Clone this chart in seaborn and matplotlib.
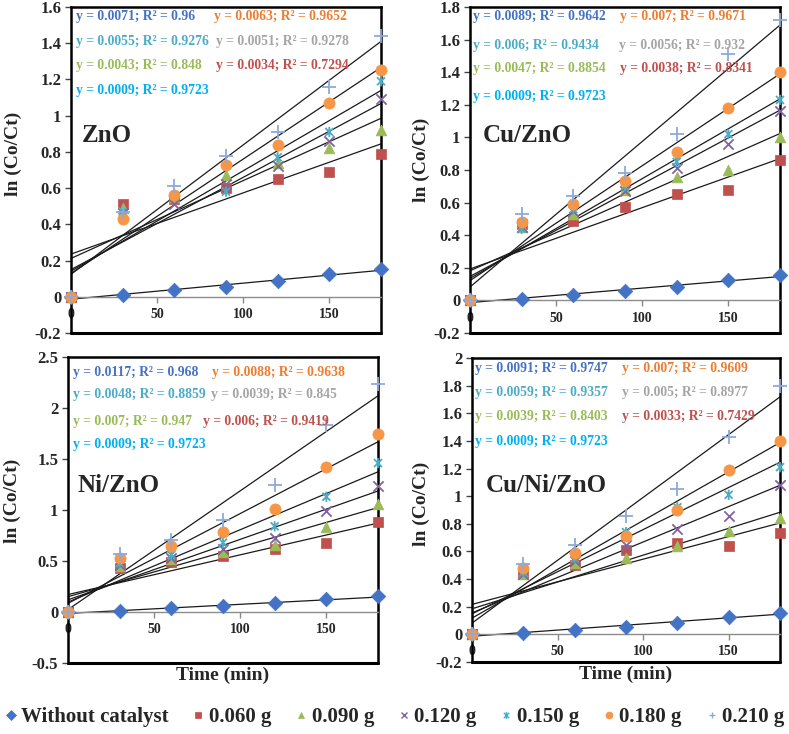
import numpy as np
import pandas as pd
import matplotlib
matplotlib.use('Agg')
import matplotlib.pyplot as plt
from matplotlib.path import Path
from matplotlib.lines import Line2D
import seaborn as sns

sns.set_style('white')
plt.rcParams['font.family'] = ['Liberation Serif', 'DejaVu Serif']
plt.rcParams['font.weight'] = 'bold'

time_min = [0, 30, 60, 90, 120, 150, 180]
no_catalyst = [0, 0.01, 0.035, 0.055, 0.085, 0.125, 0.155]

doses = ['0.060 g', '0.090 g', '0.120 g', '0.150 g', '0.180 g', '0.210 g']

# ln(Co/Ct) per dose, same order as doses
zno = [
    [0, 0.51, 0.54, 0.60, 0.65, 0.69, 0.79],
    [0, 0.49, 0.55, 0.67, 0.74, 0.82, 0.92],
    [0, 0.46, 0.51, 0.62, 0.72, 0.86, 1.09],
    [0, 0.47, 0.56, 0.58, 0.77, 0.91, 1.19],
    [0, 0.43, 0.56, 0.73, 0.84, 1.07, 1.25],
    [0, 0.47, 0.61, 0.78, 0.91, 1.16, 1.44],
]
cu_zno = [
    [0, 0.47, 0.49, 0.57, 0.65, 0.68, 0.86],
    [0, 0.45, 0.53, 0.68, 0.76, 0.80, 1.00],
    [0, 0.45, 0.55, 0.67, 0.81, 0.96, 1.16],
    [0, 0.44, 0.56, 0.70, 0.85, 1.02, 1.23],
    [0, 0.48, 0.59, 0.73, 0.91, 1.18, 1.40],
    [0, 0.53, 0.64, 0.78, 1.02, 1.51, 1.72],
]
ni_zno = [
    [0, 0.43, 0.49, 0.55, 0.62, 0.68, 0.88],
    [0, 0.45, 0.52, 0.59, 0.66, 0.83, 1.06],
    [0, 0.46, 0.53, 0.62, 0.73, 0.99, 1.24],
    [0, 0.48, 0.56, 0.68, 0.84, 1.13, 1.46],
    [0, 0.53, 0.65, 0.78, 1.01, 1.42, 1.75],
    [0, 0.57, 0.71, 0.90, 1.25, 1.83, 2.24],
]
cu_ni_zno = [
    [0, 0.44, 0.50, 0.61, 0.66, 0.64, 0.73],
    [0, 0.44, 0.52, 0.55, 0.64, 0.75, 0.84],
    [0, 0.44, 0.53, 0.65, 0.76, 0.86, 1.08],
    [0, 0.45, 0.55, 0.74, 0.92, 1.01, 1.21],
    [0, 0.48, 0.59, 0.71, 0.90, 1.19, 1.40],
    [0, 0.51, 0.65, 0.86, 1.05, 1.43, 1.80],
]

panel_names = ['ZnO', 'Cu/ZnO', 'Ni/ZnO', 'Cu/Ni/ZnO']

zno_eq = ['y = 0.0071; R² = 0.96', 'y = 0.0063; R² = 0.9652',
          'y = 0.0055; R² = 0.9276', 'y = 0.0051; R² = 0.9278',
          'y = 0.0043; R² = 0.848', 'y = 0.0034; R² = 0.7294',
          'y = 0.0009; R² = 0.9723']
cu_zno_eq = ['y = 0.0089; R² = 0.9642', 'y = 0.007; R² = 0.9671',
             'y = 0.006; R² = 0.9434', 'y = 0.0056; R² = 0.932',
             'y = 0.0047; R² = 0.8854', 'y = 0.0038; R² = 0.8341',
             'y = 0.0009; R² = 0.9723']
ni_zno_eq = ['y = 0.0117; R² = 0.968', 'y = 0.0088; R² = 0.9638',
             'y = 0.0048; R² = 0.8859', 'y = 0.0039; R² = 0.845',
             'y = 0.007; R² = 0.947', 'y = 0.006; R² = 0.9419',
             'y = 0.0009; R² = 0.9723']
cu_ni_zno_eq = ['y = 0.0091; R² = 0.9747', 'y = 0.007; R² = 0.9609',
                'y = 0.0059; R² = 0.9357', 'y = 0.005; R² = 0.8977',
                'y = 0.0039; R² = 0.8403', 'y = 0.0033; R² = 0.7429',
                'y = 0.0009; R² = 0.9723']
eq_colors = ['#4472C4', '#ED7D31', '#4BACC6', '#A5A5A5', '#9BBB59', '#C0504D', '#00B0F0']

# excel-like star: x with a vertical bar
STAR = Path([(-1, -1), (1, 1), (-1, 1), (1, -1), (0, -1.3), (0, 1.3)],
            [Path.MOVETO, Path.LINETO, Path.MOVETO, Path.LINETO, Path.MOVETO, Path.LINETO])

nc_style = ('D', '#4472C4', 55)
dose_styles = [('s', '#C0504D', 55), ('^', '#9BBB59', 60), ('x', '#8064A2', 55),
               (STAR, '#4BACC6', 55), ('o', '#F79646', 65), ('+', '#8EA9DB', 95)]

# box in pixels, y label x/y, name x/y, equation rows, equation x per text
panels = [
    (zno, zno_eq, (-0.2, 1.6), 0.2, [71, 7, 381, 333], -0.158, 0.55, 0.035, 0.607,
     [0.97, 0.895, 0.82, 0.745], [0.016, 0.46, 0.016, 0.468, 0.016, 0.468, 0.016]),
    (cu_zno, cu_zno_eq, (-0.2, 1.8), 0.2, [470, 7, 780, 333], -0.129, 0.53, 0.04, 0.607,
     [0.97, 0.883, 0.81, 0.724], [0.01, 0.484, 0.01, 0.48, 0.01, 0.484, 0.01]),
    (ni_zno, ni_zno_eq, (-0.5, 2.5), 0.5, [68, 357, 378, 663], -0.152, 0.53, 0.03, 0.58,
     [0.95, 0.876, 0.79, 0.713], [0.016, 0.464, 0.016, 0.461, 0.016, 0.435, 0.016]),
    (cu_ni_zno, cu_ni_zno_eq, (-0.2, 2.0), 0.2, [472, 358, 780, 662], -0.136, 0.52, 0.045, 0.58,
     [0.964, 0.885, 0.806, 0.724], [0.01, 0.487, 0.01, 0.487, 0.01, 0.487, 0.01]),
]
eq_rows = [0, 0, 1, 1, 2, 2, 3]

W, H = 789, 734
fig = plt.figure(figsize=(W / 100, H / 100), dpi=100)

for i, (vals, eqs, ylim, ystep, box, ylab_x, ylab_y, name_x, name_y, rows, eq_x) in enumerate(panels):
    x0, y0, x1, y1 = box
    ax = fig.add_axes([x0 / W, (H - y1) / H, (x1 - x0) / W, (y1 - y0) / H])

    series = [no_catalyst] + vals
    styles = [nc_style] + dose_styles
    for yv in series:
        sns.regplot(x=time_min, y=yv, ax=ax, scatter=False, ci=None, truncate=True,
                    color='#1a1a1a', line_kws={'lw': 0.9, 'zorder': 2})
    for yv, (m, c, s) in zip(series, styles):
        if m is STAR:
            kw = dict(facecolor='none', edgecolor=c, linewidth=1.3)
        elif m in ('x', '+'):
            kw = dict(linewidth=1.3)
        else:
            kw = dict(edgecolor=c, linewidth=0.5)
        sns.scatterplot(x=time_min, y=yv, ax=ax, marker=m, color=c, s=s,
                        clip_on=False, zorder=3, **kw)

    ax.set_xlim(0, 180)
    ax.set_ylim(*ylim)
    yt = np.round(np.arange(ylim[0], ylim[1] + ystep / 2, ystep), 2)
    ax.set_yticks(yt)
    ax.set_yticklabels([f'{v:g}' for v in yt], fontsize=12, fontweight='bold')
    ax.set_xticks([0, 50, 100, 150])
    ax.set_xticklabels(['0', '50', '100', '150'], fontsize=12, fontweight='bold')
    ax.tick_params(axis='y', direction='out', length=4, width=1, pad=3, left=True, color='#444444')
    ax.tick_params(axis='x', direction='out', length=4, width=1, pad=4, bottom=True, color='#888888')

    for side in ['top', 'left', 'right']:
        ax.spines[side].set_color('black')
        ax.spines[side].set_linewidth(1.8)
    ax.spines['bottom'].set_position(('data', 0))
    ax.spines['bottom'].set_color('#8c8c8c')
    ax.spines['bottom'].set_linewidth(1.0)
    ax.plot([0, 1], [0, 0], transform=ax.transAxes, color='black', lw=2.2, clip_on=False)

    ax.set_ylabel('ln (Co/Ct)', fontsize=14, fontweight='bold')
    ax.yaxis.set_label_coords(ylab_x, ylab_y)

    ax.text(name_x, name_y, panel_names[i], transform=ax.transAxes, fontsize=18,
            fontweight='bold', va='center', ha='left')

    for r, xx, t, c in zip(eq_rows, eq_x, eqs, eq_colors):
        ax.text(xx, rows[r], t, transform=ax.transAxes, fontsize=9.8,
                fontweight='bold', color=c, va='center', ha='left')

    if i >= 2:
        ax.text(0.5, -0.012, 'Time (min)', transform=ax.transAxes, fontsize=14,
                fontweight='bold', ha='center', va='top')

handles = [Line2D([], [], marker=m, color=c, linestyle='none', markersize=5,
                  markeredgewidth=1.0 if (m in ('x', '+') or m is STAR) else 0.5,
                  markerfacecolor='none' if m is STAR else c, markeredgecolor=c)
           for m, c, s in [nc_style] + dose_styles]
labels = ['Without catalyst'] + doses
fig.legend(handles, labels, loc='center', bbox_to_anchor=(0.5, 0.023), ncol=7,
           frameon=False, handlelength=0.6, handletextpad=0.2,
           columnspacing=1.13, prop={'weight': 'bold', 'size': 15})

fig.savefig('out.png', dpi=100)
